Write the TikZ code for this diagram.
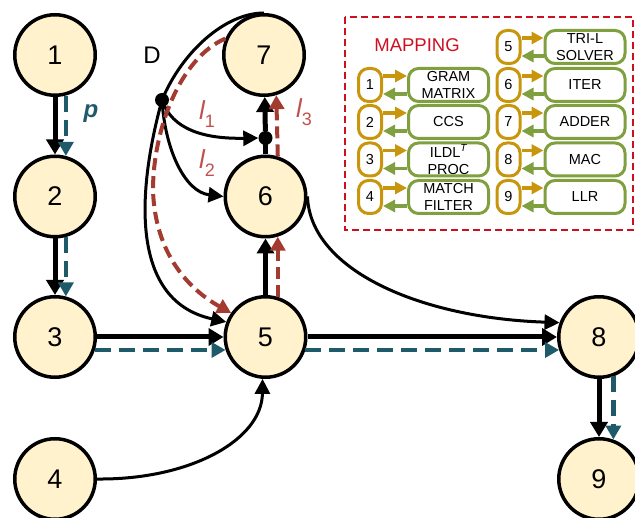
\documentclass[tikz,border=0pt]{standalone}
\usepackage{fontspec}
\setmainfont{Liberation Sans}
\usetikzlibrary{arrows.meta,calc}

\definecolor{nodefill}{HTML}{FFF2CC}
\definecolor{flowteal}{HTML}{1F5A6A}
\definecolor{loopred}{HTML}{A33B30}
\definecolor{lblred}{HTML}{C0504D}
\definecolor{mapred}{HTML}{CC1020}
\definecolor{mapgold}{HTML}{C8960C}
\definecolor{mapgreen}{HTML}{80A040}

\newcommand{\lsub}[1]{{\itshape l}\raisebox{-0.3em}{\fontsize{18}{18}\selectfont #1}}

\begin{document}
\begin{tikzpicture}[x=1pt,y=-1pt,
  state/.style={circle,draw,line width=3.5pt,fill=nodefill,minimum size=80.5pt,
    inner sep=0pt,font=\fontsize{27}{27}\selectfont},
  dot/.style={circle,fill=black,minimum size=14pt,inner sep=0pt},
  thickarrow/.style={line width=5pt,-{Triangle[length=15pt,width=17pt]}},
  thickline/.style={line width=5pt},
  curvearrow/.style={line width=3pt,-{Triangle[length=15pt,width=15pt]}},
  tealflow/.style={draw=flowteal,line width=4.5pt,dash pattern=on 16pt off 8pt,
    -{Triangle[length=14pt,width=15pt]}},
  redflow/.style={draw=loopred,line width=4pt,dash pattern=on 12pt off 6pt,
    -{Triangle[length=14pt,width=15pt]}},
  lbl/.style={text=lblred,font=\fontsize{26}{26}\selectfont},
  numbox/.style={draw=mapgold,line width=3pt,rounded corners=10pt,minimum width=23pt,
    minimum height=33pt,inner sep=0pt,font=\fontsize{14.5}{17}\selectfont},
  blockbox/.style={draw=mapgreen,line width=3pt,rounded corners=10pt,minimum width=80pt,
    minimum height=33pt,inner sep=0pt,align=center,font=\fontsize{14.5}{17}\selectfont},
  toblock/.style={draw=mapgold,line width=3.5pt,-{Triangle[length=12pt,width=12pt]}},
  tonum/.style={draw=mapgreen,line width=3.5pt,-{Triangle[length=12pt,width=12pt]}},
]
\useasboundingbox (0,0) rectangle (635,518);

% ---- processing nodes ----
\node[state] (n1) at (55,55) {1};
\node[state] (n2) at (55,196.5) {2};
\node[state] (n3) at (55,337) {3};
\node[state] (n4) at (55,479) {4};
\node[state] (n5) at (265.5,337) {5};
\node[state] (n6) at (265.5,196.5) {6};
\node[state] (n7) at (264,55) {7};
\node[state] (n8) at (599,337) {8};
\node[state] (n9) at (599,479) {9};

% branch points
\node[dot] (D) at (162,100) {};
\node[font=\fontsize{24}{24}\selectfont] (Dlbl) at (152,55) {D};
\node[dot] (j) at (265.5,138) {};

% ---- data flow (black) ----
\draw[thickarrow] (n1) -- (n2);
\draw[thickarrow] (n2) -- (n3);
\draw[thickarrow] (n3) -- (n5);
\draw[thickarrow] (n5) -- (n8);
\draw[thickarrow] (n8) -- (n9);
\draw[thickarrow] (n5) -- (n6);
\draw[thickline] (n6) -- (j.center);
\draw[thickarrow] (j) -- (n7);
\draw[curvearrow] (n4.east) .. controls (190,480) and (262,440) .. (n5.-94);
\draw[curvearrow] (n6.east) .. controls (310,270) and (420,318) .. (n8.160);
\draw[curvearrow] (n7.north) .. controls (225,13) and (182,52) .. (D.center)
  .. controls (140,180) and (125,300) .. (n5.159);
\draw[curvearrow] (D.center) .. controls (172,130) and (205,139) .. (j.west);
\draw[curvearrow] (D.center) .. controls (165,150) and (185,192) .. (n6.west);

% ---- pipeline flow (teal, dashed) ----
\draw[tealflow] (n1.-75) -- (n2.75);
\draw[tealflow] (n2.-75) -- (n3.75);
\draw[tealflow] (n3.-18) -- (n5.198);
\draw[tealflow] (n5.-18) -- (n8.198);
\draw[tealflow] (n8.-70) -- (n9.70);
\node[text=flowteal,font=\bfseries\itshape\fontsize{24}{24}\selectfont] (plbl) at (91,114) {p};

% ---- loop flow (red, dashed) ----
\draw[redflow] (n7.157) .. controls (180,58) and (153,130) .. (153,190)
  .. controls (155,255) and (190,290) .. (n5.145);
\draw[redflow] (n5.73) -- (n6.-73);
\draw[redflow] (n6.73) -- (n7.-73);
\node[lbl] (l1) at (207,114) {\lsub{1}};
\node[lbl] (l2) at (207,163) {\lsub{2}};
\node[lbl] (l3) at (304,112) {\lsub{3}};

% ---- mapping legend ----
\draw[mapred,line width=2.7pt,dash pattern=on 7pt off 4pt] (345,17) rectangle (633,230);
\node[text=mapred,font=\fontsize{18.5}{18.5}\selectfont] (maptitle) at (417,45) {MAPPING};

\node[numbox] (g1) at (370,85) {1};
\node[numbox] (g2) at (370,122) {2};
\node[numbox] (g3) at (370,159.5) {3};
\node[numbox] (g4) at (370,197) {4};
\node[numbox] (g5) at (508.5,47) {5};
\node[numbox] (g6) at (508.5,85) {6};
\node[numbox] (g7) at (508.5,122) {7};
\node[numbox] (g8) at (508.5,159.5) {8};
\node[numbox] (g9) at (508.5,197) {9};

\node[blockbox] (b1) at (448.5,85) {GRAM\\MATRIX};
\node[blockbox] (b2) at (448.5,122) {CCS};
\node[blockbox] (b3) at (448.5,159.5) {ILDL\textsuperscript{\itshape T}\\PROC};
\node[blockbox] (b4) at (448.5,197) {MATCH\\FILTER};
\node[blockbox] (b5) at (585,47) {TRI-L\\SOLVER};
\node[blockbox] (b6) at (585,85) {ITER};
\node[blockbox] (b7) at (585,122) {ADDER};
\node[blockbox] (b8) at (585,159.5) {MAC};
\node[blockbox] (b9) at (585,197) {LLR};

\foreach \k in {1,...,9}{
  \draw[toblock] ([yshift=9pt]g\k.east) -- ([yshift=9pt]b\k.west);
  \draw[tonum] ([yshift=-9pt]b\k.west) -- ([yshift=-9pt]g\k.east);
}
\end{tikzpicture}
\end{document}
